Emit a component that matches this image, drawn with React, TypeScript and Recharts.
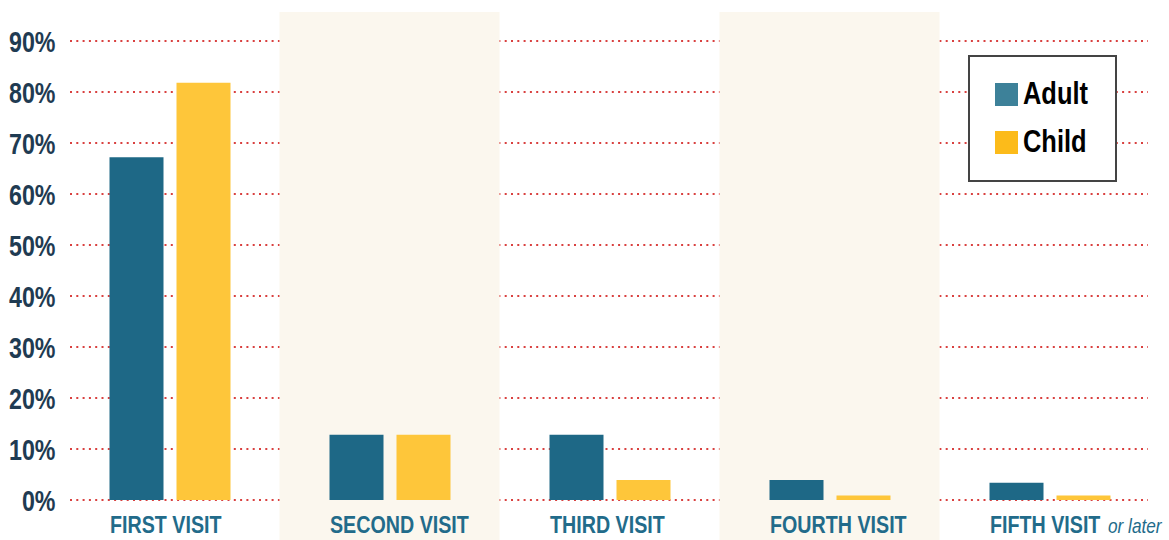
import React from 'react';
import { ComposedChart, Bar, XAxis, YAxis, CartesianGrid, ReferenceArea } from 'recharts';

const categories = ['FIRST VISIT', 'SECOND VISIT', 'THIRD VISIT', 'FOURTH VISIT', 'FIFTH VISIT'];
const adultValues = [67.2, 12.8, 12.8, 3.9, 3.4];
const childValues = [81.8, 12.8, 3.9, 0.9, 0.9];
const yTicks = [0, 10, 20, 30, 40, 50, 60, 70, 80, 90];
const shadedCategories = ['SECOND VISIT', 'FOURTH VISIT'];
const fifthSuffix = 'or later';

const data = categories.map((c, i) => ({ name: c, adult: adultValues[i], child: childValues[i] }));

const FONT = '"Liberation Sans", Arial, sans-serif';
const NARROW = 0.82;

const XTick = (props: any) => {
  const { x, y, payload } = props;
  const isFifth = payload.value === 'FIFTH VISIT';
  const left = x - 59.5;
  return (
    <g>
      <text transform={`translate(${left},${y + 25}) scale(${NARROW},1)`} x={0} y={0} textAnchor="start" fontFamily={FONT} fontWeight="bold" fontSize={24} fill="#226b8a">
        {payload.value}
      </text>
      {isFifth && (
        <text transform={`translate(${left + 118},${y + 25}) scale(${NARROW},1)`} x={0} y={0} textAnchor="start" fontFamily={FONT} fontStyle="italic" fontSize={21} fill="#226b8a">
          {fifthSuffix}
        </text>
      )}
    </g>
  );
};

const YTick = (props: any) => {
  const { x, y, payload } = props;
  return (
    <text transform={`translate(${x},${y + 10.5}) scale(0.8,1)`} x={0} y={0} textAnchor="end" fontFamily={FONT} fontWeight="bold" fontSize={29} fill="#1f3b52">
      {`${payload.value}%`}
    </text>
  );
};

export default function App() {
  return (
    <div style={{ position: 'absolute', left: 0, top: 0, width: 1169, height: 540, background: '#fff', overflow: 'hidden' }}>
      <ComposedChart width={1169} height={540} data={data} margin={{ top: 41, right: 9.5, bottom: 0, left: 0 }} barGap={13}>
        {shadedCategories.map((c) => (
          <ReferenceArea key={c} x1={c} x2={c} y1={-8} y2={95.7} ifOverflow="visible" fill="#fbf7ee" fillOpacity={1} stroke="none" />
        ))}
        <CartesianGrid horizontal vertical={false} x={70} width={1078} stroke="#d9403f" strokeWidth={2} strokeDasharray="2 4.3" />
        <XAxis dataKey="name" axisLine={false} tickLine={false} height={40} tick={<XTick />} interval={0} />
        <YAxis domain={[0, 90]} ticks={yTicks} width={59.5} axisLine={false} tickLine={false} tickSize={0} tickMargin={4} tick={<YTick />} interval={0} />
        <Bar dataKey="adult" fill="#1e6886" barSize={54} isAnimationActive={false} />
        <Bar dataKey="child" fill="#fec63a" barSize={54} isAnimationActive={false} />
      </ComposedChart>
      <div
        style={{
          position: 'absolute',
          left: 968,
          top: 55,
          width: 145,
          height: 123,
          border: '2px solid #444',
          background: '#fff',
          fontFamily: FONT,
          fontWeight: 'bold',
          fontSize: 31,
          color: '#000',
        }}
      >
        {[
          { label: 'Adult', color: '#3d8199', top: 25 },
          { label: 'Child', color: '#fcbb1a', top: 73 },
        ].map((it) => (
          <div key={it.label} style={{ position: 'absolute', left: 25, top: it.top, display: 'flex', alignItems: 'center', height: 24 }}>
            <div style={{ width: 23, height: 23, background: it.color, marginRight: 5, flex: 'none' }} />
            <span style={{ lineHeight: '24px', display: 'inline-block', transform: `scale(${NARROW},1)`, transformOrigin: 'left center', whiteSpace: 'nowrap' }}>{it.label}</span>
          </div>
        ))}
      </div>
    </div>
  );
}
